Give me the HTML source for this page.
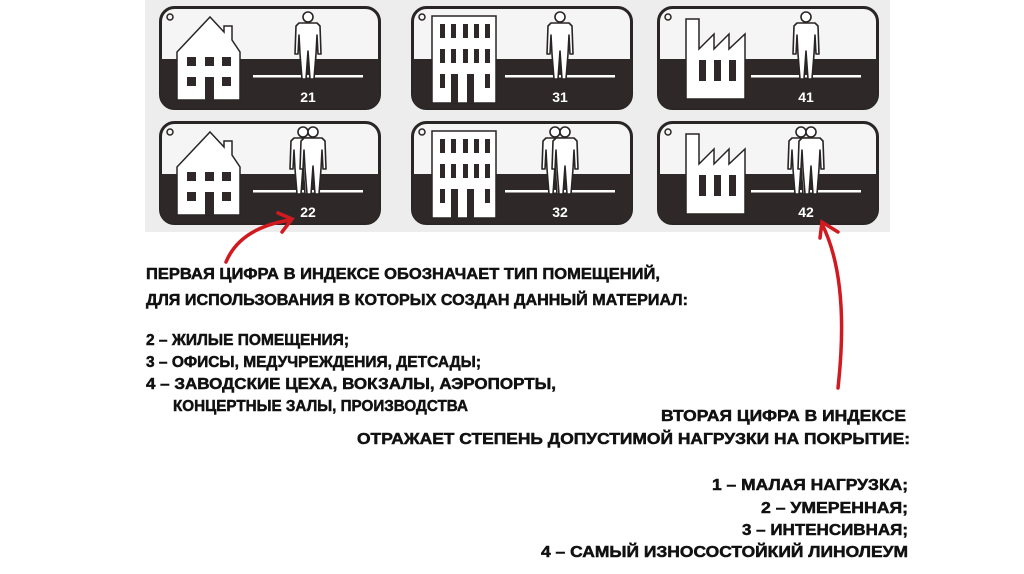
<!DOCTYPE html>
<html><head><meta charset="utf-8"><style>
html,body{margin:0;padding:0;background:#fff;}
svg{display:block;}
text{font-family:"Liberation Sans","DejaVu Sans",sans-serif;font-weight:bold;}
</style></head><body>
<svg width="1024" height="574" viewBox="0 0 1024 574" xmlns="http://www.w3.org/2000/svg">
<defs>
  <path id="man" d="M-9,17 L9,17 L12,20 L13,48 L10,48 L9,29 L8,48 L6,73 L2,73 L0,45 L-2,73 L-6,73 L-8,48 L-9,29 L-10,48 L-13,48 L-12,20 Z" fill="#fff" stroke="#2a2525" stroke-width="1.6" stroke-linejoin="round"/>
  <g id="one"><circle cx="0" cy="11" r="5" fill="#fff" stroke="#2a2525" stroke-width="1.6"/><use href="#man"/></g>
  <g id="two"><circle cx="-5" cy="11" r="5" fill="#fff" stroke="#2a2525" stroke-width="1.6"/><use href="#man" x="-5"/><circle cx="5" cy="11" r="5" fill="#fff" stroke="#2a2525" stroke-width="1.6"/><use href="#man" x="5"/></g>
  <g id="panel">
    <rect x="1.5" y="1.5" width="219" height="101" rx="14" fill="#f5f5f5" stroke="#2a2525" stroke-width="3"/>
    <path d="M1.5,53 L220.5,53 L220.5,88.5 Q220.5,102.5 206.5,102.5 L15.5,102.5 Q1.5,102.5 1.5,88.5 Z" fill="#2e2828"/>
    <circle cx="11" cy="11" r="3" fill="none" stroke="#2a2525" stroke-width="1.5"/>
    <rect x="94" y="69" width="110" height="2.5" fill="#fff"/>
  </g>
  <g id="house">
    <path d="M18,46 L51,11 L65,26 L65,20 L73,20 L73,34 L81,46 L81,94 L18,94 Z" fill="#fff" stroke="#2a2525" stroke-width="1.5"/>
    <g fill="#2e2828"><rect x="28" y="51" width="9" height="9"/><rect x="46" y="51" width="9" height="9"/><rect x="63" y="51" width="9" height="9"/><rect x="28" y="71" width="9" height="9"/><rect x="46" y="71" width="9" height="23"/><rect x="63" y="71" width="9" height="9"/></g>
  </g>
  <g id="office">
    <rect x="21" y="10" width="64" height="87" fill="#fff" stroke="#2a2525" stroke-width="1.5"/>
    <g fill="#2e2828">
      <rect x="29" y="18" width="5" height="14"/><rect x="40" y="18" width="5" height="14"/><rect x="52" y="18" width="5" height="14"/><rect x="63" y="18" width="5" height="14"/><rect x="74" y="18" width="5" height="14"/>
      <rect x="29" y="43" width="5" height="14"/><rect x="40" y="43" width="5" height="14"/><rect x="52" y="43" width="5" height="14"/><rect x="63" y="43" width="5" height="14"/><rect x="74" y="43" width="5" height="14"/>
      <rect x="29" y="68" width="5" height="14"/><rect x="40" y="68" width="7" height="29"/><rect x="56" y="68" width="7" height="29"/><rect x="74" y="68" width="5" height="14"/>
    </g>
  </g>
  <g id="factory">
    <path d="M29,13 L42,13 L42,43 L57,28 L57,43 L72,28 L72,43 L88,28 L88,93 L29,93 Z" fill="#fff" stroke="#2a2525" stroke-width="1.5"/>
    <g fill="#2e2828"><rect x="42" y="54" width="7" height="21"/><rect x="57" y="54" width="7" height="21"/><rect x="72" y="54" width="7" height="21"/></g>
  </g>
</defs>
<rect x="145" y="0" width="745" height="232" fill="#ededed"/>
<g transform="translate(159,6)"><use href="#panel"/><use href="#house"/><use href="#one" x="149"/><text x="149" y="96" fill="#fff" font-size="14" text-anchor="middle">21</text></g>
<g transform="translate(411,6)"><use href="#panel"/><use href="#office"/><use href="#one" x="149"/><text x="149" y="96" fill="#fff" font-size="14" text-anchor="middle">31</text></g>
<g transform="translate(657,6)"><use href="#panel"/><use href="#factory"/><use href="#one" x="149"/><text x="149" y="96" fill="#fff" font-size="14" text-anchor="middle">41</text></g>
<g transform="translate(159,121)"><use href="#panel"/><use href="#house"/><use href="#two" x="149"/><text x="149" y="96" fill="#fff" font-size="14" text-anchor="middle">22</text></g>
<g transform="translate(411,121)"><use href="#panel"/><use href="#office"/><use href="#two" x="149"/><text x="149" y="96" fill="#fff" font-size="14" text-anchor="middle">32</text></g>
<g transform="translate(657,121)"><use href="#panel"/><use href="#factory"/><use href="#two" x="149"/><text x="149" y="96" fill="#fff" font-size="14" text-anchor="middle">42</text></g>
<g fill="none" stroke="#d11a1f" stroke-width="3.5" stroke-linecap="round">
  <path d="M226,262 Q240,228 290,220"/>
  <path d="M278,213 L292,219 L282,232"/>
  <path d="M838,388 Q850,280 822,224"/>
  <path d="M820,238 L822,222 L838,232"/>
</g>
<g fill="#111" stroke="#111" stroke-width="0.5" font-size="15.5">
  <text x="146" y="279" textLength="514" lengthAdjust="spacingAndGlyphs">ПЕРВАЯ ЦИФРА В ИНДЕКСЕ ОБОЗНАЧАЕТ ТИП ПОМЕЩЕНИЙ,</text>
  <text x="146" y="305" textLength="542" lengthAdjust="spacingAndGlyphs">ДЛЯ ИСПОЛЬЗОВАНИЯ В КОТОРЫХ СОЗДАН ДАННЫЙ МАТЕРИАЛ:</text>
  <text x="146" y="345" textLength="203" lengthAdjust="spacingAndGlyphs">2 – ЖИЛЫЕ ПОМЕЩЕНИЯ;</text>
  <text x="146" y="367" textLength="335" lengthAdjust="spacingAndGlyphs">3 – ОФИСЫ, МЕДУЧРЕЖДЕНИЯ, ДЕТСАДЫ;</text>
  <text x="146" y="389" textLength="410" lengthAdjust="spacingAndGlyphs">4 – ЗАВОДСКИЕ ЦЕХА, ВОКЗАЛЫ, АЭРОПОРТЫ,</text>
  <text x="173" y="411" textLength="295" lengthAdjust="spacingAndGlyphs">КОНЦЕРТНЫЕ ЗАЛЫ, ПРОИЗВОДСТВА</text>
  <text x="661" y="421" textLength="245" lengthAdjust="spacingAndGlyphs">ВТОРАЯ ЦИФРА В ИНДЕКСЕ</text>
  <text x="357" y="444" textLength="553" lengthAdjust="spacingAndGlyphs">ОТРАЖАЕТ СТЕПЕНЬ ДОПУСТИМОЙ НАГРУЗКИ НА ПОКРЫТИЕ:</text>
  <text x="712" y="490" textLength="196" lengthAdjust="spacingAndGlyphs">1 – МАЛАЯ НАГРУЗКА;</text>
  <text x="761" y="513" textLength="147" lengthAdjust="spacingAndGlyphs">2 – УМЕРЕННАЯ;</text>
  <text x="742" y="535" textLength="166" lengthAdjust="spacingAndGlyphs">3 – ИНТЕНСИВНАЯ;</text>
  <text x="541" y="557" textLength="367" lengthAdjust="spacingAndGlyphs">4 – САМЫЙ ИЗНОСОСТОЙКИЙ ЛИНОЛЕУМ</text>
</g>
</svg>
</body></html>
